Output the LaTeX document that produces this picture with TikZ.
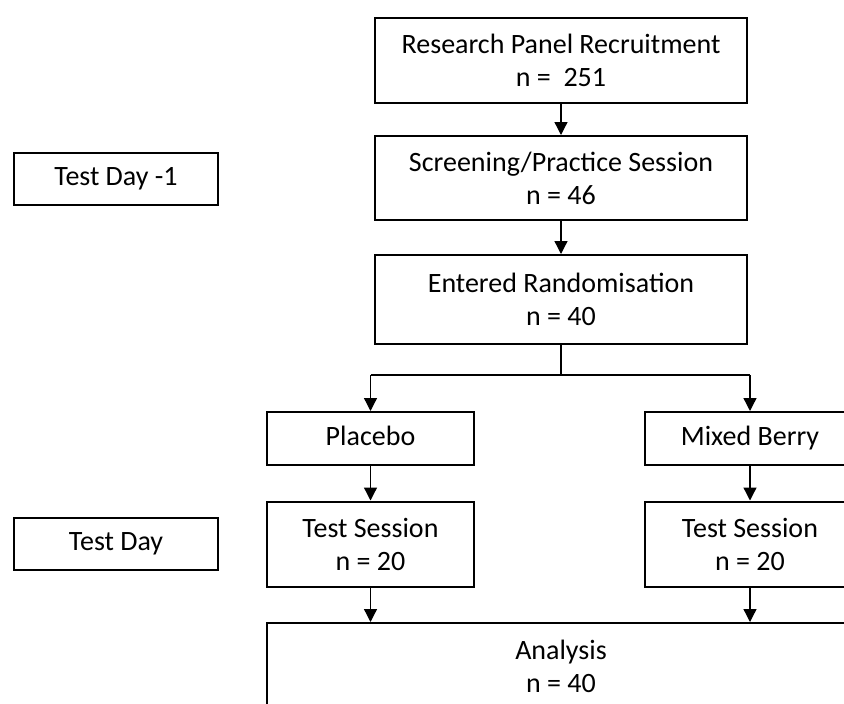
\documentclass[tikz,border=0pt]{standalone}
\usepackage{fontspec}
\setmainfont{Carlito}
\usetikzlibrary{arrows.meta}
\begin{document}
\begin{tikzpicture}[x=1pt,y=-1pt,
  box/.style={draw=black,line width=2pt,align=center,inner sep=0pt,
    font=\fontsize{28}{33}\selectfont},
  one/.style={text height=19pt,text depth=6pt},
  conn/.style={line width=1.3pt,-{Triangle[length=13pt,width=13pt]}},
  plain/.style={line width=1.3pt}]
\useasboundingbox (0,0) rectangle (844,704);
\clip (0,0) rectangle (844,704);
\node[box,minimum width=372pt,minimum height=85pt] (recruit) at (561,60.5) {Research Panel Recruitment\\n =\ \ 251};
\node[box,minimum width=372pt,minimum height=84pt] (screen) at (561,178) {Screening/Practice Session\\n = 46};
\node[box,minimum width=372pt,minimum height=89pt] (random) at (561,299.5) {Entered Randomisation\\n = 40};
\node[box,one,minimum width=204pt,minimum height=52pt] (day1) at (116,179) {Test Day -1};
\node[box,one,minimum width=207pt,minimum height=53pt] (placebo) at (370.5,438.5) {Placebo};
\node[box,one,minimum width=210pt,minimum height=53pt] (berry) at (750,438.5) {Mixed Berry};
\node[box,minimum width=207pt,minimum height=85pt] (tsl) at (370.5,544) {Test Session\\n = 20};
\node[box,minimum width=210pt,minimum height=85pt] (tsr) at (750,544) {Test Session\\n = 20};
\node[box,one,minimum width=204pt,minimum height=52pt] (day) at (116,544) {Test Day};
\node[box,minimum width=588pt,minimum height=86pt] (analysis) at (561,666) {Analysis\\n = 40};
\coordinate (split) at (561,375);
\coordinate (sl) at (370.5,375);
\coordinate (sr) at (750,375);
\draw[conn] (recruit.south) -- (screen.north);
\draw[conn] (screen.south) -- (random.north);
\draw[plain] (random.south) -- (split);
\draw[plain] (sl) -- (sr);
\draw[conn] (sl) -- (placebo.north);
\draw[conn] (sr) -- (berry.north);
\draw[conn] (placebo.south) -- (tsl.north);
\draw[conn] (berry.south) -- (tsr.north);
\draw[conn] (tsl.south) -- (tsl.south |- analysis.north);
\draw[conn] (tsr.south) -- (tsr.south |- analysis.north);
\end{tikzpicture}
\end{document}
